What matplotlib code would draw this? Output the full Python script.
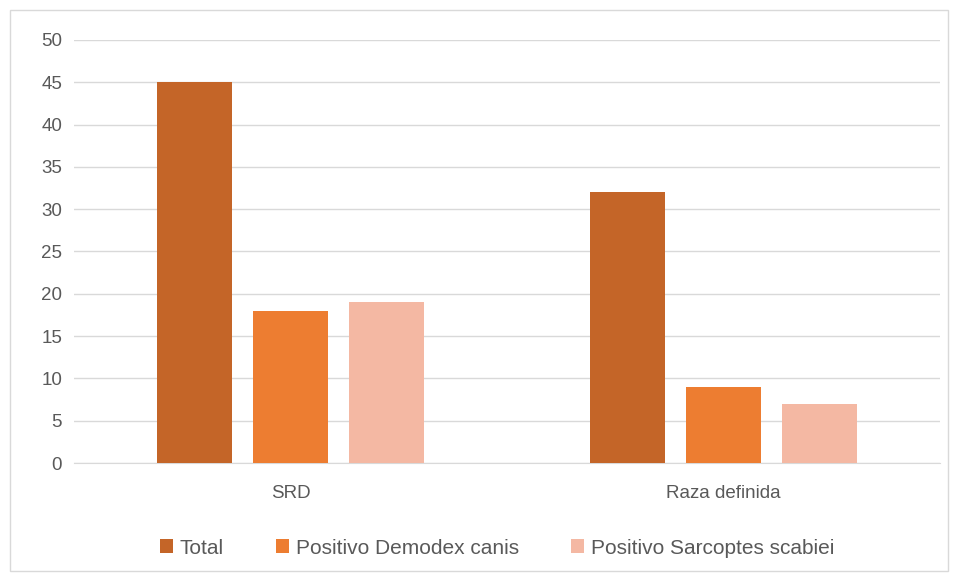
import numpy as np
import matplotlib.pyplot as plt
from matplotlib.patches import Rectangle

categories = ["SRD", "Raza definida"]
series_names = ["Total", "Positivo Demodex canis", "Positivo Sarcoptes scabiei"]
total = [45, 32]
demodex = [18, 9]
sarcoptes = [19, 7]
colors = ["#C46528", "#ED7D31", "#F4B8A3"]

plt.rcParams['font.family'] = ['Liberation Sans', 'DejaVu Sans']
text_color = "#595959"

fig = plt.figure(figsize=(9.58, 5.81), dpi=100)
ax = fig.add_axes([74 / 958, 1 - 463 / 581, (940 - 74) / 958, (463 - 40) / 581])

# outer chart border
fig.patches.append(Rectangle((10 / 958, 10 / 581), 938 / 958, 561 / 581,
                             transform=fig.transFigure, fill=False,
                             edgecolor="#D9D9D9", linewidth=1))

x = np.arange(len(categories))
width = 0.173
step = 0.2215
for i, (vals, name) in enumerate(zip([total, demodex, sarcoptes], series_names)):
    ax.bar(x + (i - 1) * step, vals, width, color=colors[i], label=name, zorder=3)

ax.set_xlim(-0.5, 1.5)
ax.set_ylim(0, 50)
ax.set_yticks(range(0, 51, 5))
ax.yaxis.grid(True, color="#D9D9D9", linewidth=1, zorder=0)
for s in ["top", "right", "left"]:
    ax.spines[s].set_visible(False)
ax.spines["bottom"].set_color("#D9D9D9")
ax.tick_params(axis="both", length=0, labelsize=13.5, colors=text_color)
ax.tick_params(axis="y", pad=8.5)
ax.tick_params(axis="x", pad=16)
ax.set_xticks(x)
ax.set_xticklabels(categories)

fig.legend(loc="center", bbox_to_anchor=(497 / 958, 1 - 548 / 581), ncol=3,
           frameon=False, fontsize=15, labelcolor=text_color,
           handlelength=0.65, handleheight=0.65, handletextpad=0.3, columnspacing=2.5)

fig.savefig("out.png", dpi=100)
